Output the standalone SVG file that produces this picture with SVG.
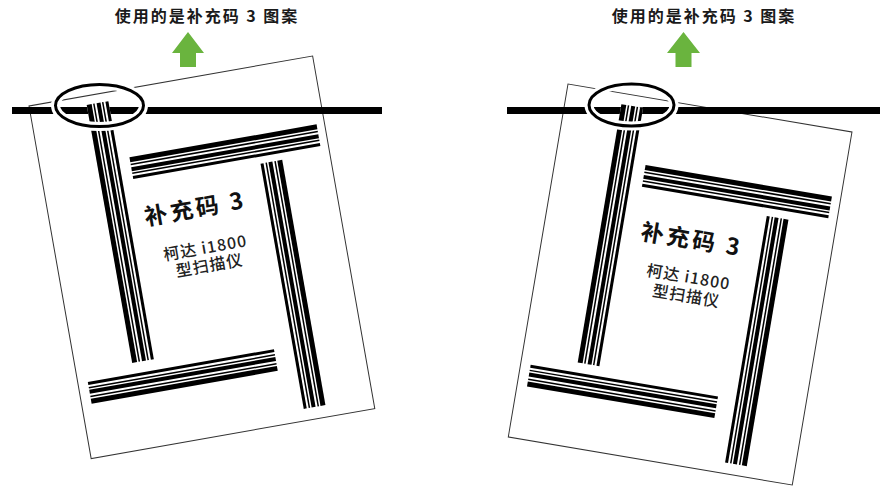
<svg xmlns="http://www.w3.org/2000/svg" width="880" height="488" viewBox="0 0 880 488">
<style>
.bg{fill:#fff}
.page{fill:#fff;stroke:#333;stroke-width:1}
.sbg{fill:#fff}
.bar{fill:#000}
.line{fill:#000}
.halo{fill:none;stroke:#fff;stroke-width:9}
.ring{fill:none;stroke:#000;stroke-width:3}
.arrow{fill:#6ab43e}
.cap{font-family:"Noto Sans CJK SC","Noto Sans",sans-serif;font-size:16px;font-weight:bold;fill:#1a1a1a;text-anchor:middle;letter-spacing:2px}
.t1{font-family:"Noto Sans CJK SC","Noto Sans",sans-serif;font-size:23px;font-weight:bold;fill:#111;text-anchor:middle;letter-spacing:3px}
.t2{font-family:"Noto Sans CJK SC","Noto Sans",sans-serif;font-size:16px;font-weight:500;fill:#222;text-anchor:middle;letter-spacing:1px}
</style>
<rect class="bg" x="0" y="0" width="880" height="488"/>

<g id="left-panel">
  <text class="cap" x="207" y="22">使用的是补充码 3 图案</text>
  <g transform="translate(29,106) rotate(-10)"><rect class="page" x="0" y="0" width="288" height="358"/></g>
  <rect class="line" x="12" y="107" width="370" height="7"/>
  <g transform="translate(29,106) rotate(-10)">
    <g id="left-strip-l">
      <rect class="sbg" x="57" y="9" width="22" height="262"/>
      <rect class="bar" x="57" y="9" width="5" height="262"/>
      <rect class="bar" x="63.5" y="9" width="1.5" height="262"/>
      <rect class="bar" x="67" y="9" width="4" height="262"/>
      <rect class="bar" x="72.5" y="9" width="1.5" height="262"/>
      <rect class="bar" x="76" y="9" width="3" height="262"/>
    </g>
    <g id="left-strip-t">
      <rect class="bar" x="90" y="68" width="190" height="5"/>
      <rect class="bar" x="90" y="74.5" width="190" height="1.5"/>
      <rect class="bar" x="90" y="78" width="190" height="4"/>
      <rect class="bar" x="90" y="83.5" width="190" height="1.5"/>
      <rect class="bar" x="90" y="87" width="190" height="3"/>
    </g>
    <g id="left-strip-r">
      <rect class="bar" x="235" y="97" width="5" height="249"/>
      <rect class="bar" x="232" y="97" width="1.5" height="249"/>
      <rect class="bar" x="226" y="97" width="4" height="249"/>
      <rect class="bar" x="223" y="97" width="1.5" height="249"/>
      <rect class="bar" x="218" y="97" width="3" height="249"/>
    </g>
    <g id="left-strip-b">
      <rect class="bar" x="10" y="299" width="189" height="5"/>
      <rect class="bar" x="10" y="296" width="189" height="1.5"/>
      <rect class="bar" x="10" y="290" width="189" height="4"/>
      <rect class="bar" x="10" y="287" width="189" height="1.5"/>
      <rect class="bar" x="10" y="282" width="189" height="3"/>
    </g>
    <g id="left-label">
      <text class="t1" x="146" y="138">补充码 3</text>
      <text class="t2" x="149" y="176">柯达 i1800</text>
      <text class="t2" x="150" y="194">型扫描仪</text>
    </g>
  </g>
  <g id="left-ellipse">
    <ellipse class="halo" cx="99.5" cy="105.5" rx="44" ry="21"/>
    <ellipse class="ring" cx="99.5" cy="105.5" rx="44" ry="21"/>
  </g>
</g>

<g id="right-panel">
  <text class="cap" x="704" y="22">使用的是补充码 3 图案</text>
  <g transform="translate(568,84) rotate(9.6)"><rect class="page" x="0" y="0" width="288" height="358"/></g>
  <rect class="line" x="507" y="107" width="373" height="7"/>
  <g transform="translate(568,84) rotate(9.6)">
    <g id="right-strip-l">
      <rect class="sbg" x="56" y="11" width="22" height="262"/>
      <rect class="bar" x="56" y="11" width="5" height="262"/>
      <rect class="bar" x="62.5" y="11" width="1.5" height="262"/>
      <rect class="bar" x="66" y="11" width="4" height="262"/>
      <rect class="bar" x="71.5" y="11" width="1.5" height="262"/>
      <rect class="bar" x="75" y="11" width="3" height="262"/>
    </g>
    <g id="right-strip-t">
      <rect class="bar" x="90" y="67" width="189" height="5"/>
      <rect class="bar" x="90" y="73.5" width="189" height="1.5"/>
      <rect class="bar" x="90" y="77" width="189" height="4"/>
      <rect class="bar" x="90" y="82.5" width="189" height="1.5"/>
      <rect class="bar" x="90" y="86" width="189" height="3"/>
    </g>
    <g id="right-strip-r">
      <rect class="bar" x="235" y="97" width="5" height="250"/>
      <rect class="bar" x="232" y="97" width="1.5" height="250"/>
      <rect class="bar" x="226" y="97" width="4" height="250"/>
      <rect class="bar" x="223" y="97" width="1.5" height="250"/>
      <rect class="bar" x="218" y="97" width="3" height="250"/>
    </g>
    <g id="right-strip-b">
      <rect class="bar" x="10" y="300" width="190" height="5"/>
      <rect class="bar" x="10" y="297" width="190" height="1.5"/>
      <rect class="bar" x="10" y="291" width="190" height="4"/>
      <rect class="bar" x="10" y="288" width="190" height="1.5"/>
      <rect class="bar" x="10" y="283" width="190" height="3"/>
    </g>
    <g id="right-label">
      <text class="t1" x="148" y="141">补充码 3</text>
      <text class="t2" x="151" y="176">柯达 i1800</text>
      <text class="t2" x="152" y="195">型扫描仪</text>
    </g>
  </g>
  <g id="right-ellipse">
    <ellipse class="halo" cx="631.5" cy="105" rx="42.5" ry="21"/>
    <ellipse class="ring" cx="631.5" cy="105" rx="42.5" ry="21"/>
  </g>
</g>

<g id="connectors">
  <path class="arrow" d="M188,32 L204,53 L196,53 L196,67 L180,67 L180,53 L172,53 Z"/>
  <path class="arrow" d="M683.5,32 L700,53 L691.5,53 L691.5,67 L675.5,67 L675.5,53 L667,53 Z"/>
</g>
</svg>
